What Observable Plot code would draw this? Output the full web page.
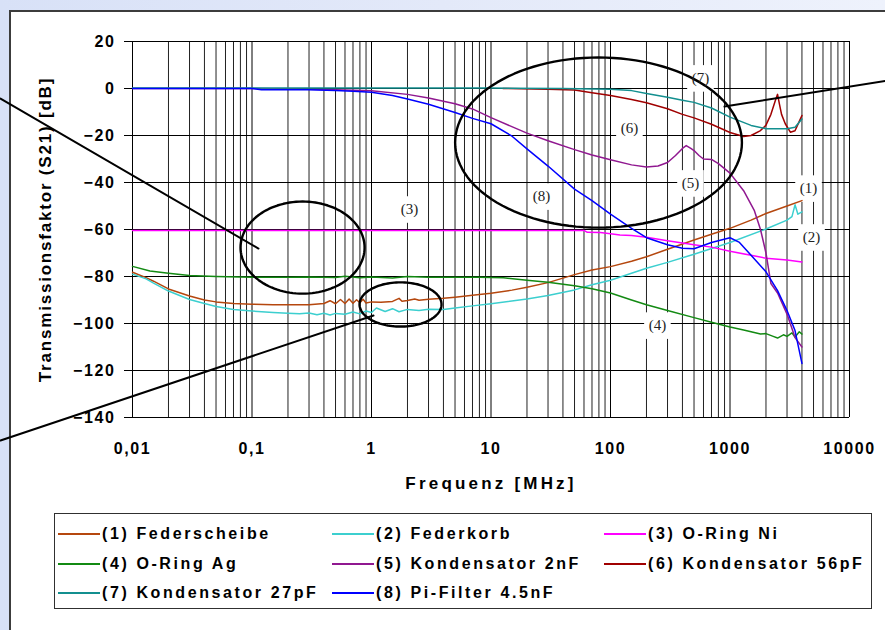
<!DOCTYPE html>
<html><head><meta charset="utf-8">
<script src="https://cdn.jsdelivr.net/npm/d3@7"></script>
<script src="https://cdn.jsdelivr.net/npm/@observablehq/plot@0.6"></script>
<style>
html,body{margin:0;padding:0}
body{width:885px;height:630px;overflow:hidden;position:relative;background:linear-gradient(90deg,#d8e1f7 0%,#e3e9f9 50%,#eef2fc 100%);}
#frame{position:absolute;left:9px;top:10px;width:900px;height:640px;background:#fff;border:2px solid #3c3c3c;box-sizing:border-box}
#chart{position:absolute;left:0;top:0}
#legend{position:absolute;left:54px;top:513px;width:818px;height:96px;border:1px solid #303030;box-sizing:border-box;background:#fff;font:bold 16px "Liberation Sans",Arial,sans-serif;letter-spacing:2.6px;color:#000}
.item{position:absolute;height:20px;display:flex;align-items:center;white-space:nowrap}
.sw{display:inline-block;width:42px;height:2px;margin-right:2px}
</style></head>
<body><div id="frame"></div><div id="chart"></div><div id="legend"></div>
<script>
// ---- axis ticks ----
const xTicks = [0.01, 0.1, 1, 10, 100, 1000, 10000];
const xTickLabels = ["0,01", "0,1", "1", "10", "100", "1000", "10000"];
const yTicks = [20, 0, -20, -40, -60, -80, -100, -120, -140];
const minorSteps = [2, 3, 4, 5, 6, 7, 8, 9];
const yTitle = "Transmissionsfaktor (S21) [dB]";
const xTitle = "Frequenz [MHz]";

// ---- series names / colours ----
const names = ["(1) Federscheibe", "(2) Federkorb", "(3) O-Ring Ni", "(4) O-Ring Ag",
  "(5) Kondensator 2nF", "(6) Kondensator 56pF", "(7) Kondensator 27pF", "(8) Pi-Filter 4.5nF"];
const colors = ["#b5470e", "#3ccfcf", "#ff00ff", "#138a13", "#901890", "#a00000", "#138f8f", "#0000ff"];

// ---- data (frequency MHz, S21 dB) ----
const f1 = [0.01,0.013,0.015,0.02,0.03,0.04,0.05,0.07,0.1,0.15,0.2,0.3,0.4,0.45,0.5,0.55,0.6,0.65,0.7,0.75,0.8,0.85,0.9,1,1.2,1.5,1.7,1.8,2,2.3,2.5,3,4,5,7,10,15,20,30,50,70,100,150,200,300,500,700,1000,1500,2000,3000,4000];
const db1 = [-78.2,-80.5,-82,-85.3,-88.3,-90,-90.8,-91.5,-91.8,-92,-92,-92,-91.5,-90.3,-91.6,-89.8,-91.5,-89.6,-91.4,-89.9,-91.2,-89.7,-91.3,-90.8,-91,-90.6,-89.3,-90.5,-90.2,-89.6,-90.1,-89.7,-89.3,-88.8,-88,-87.1,-85.8,-84.6,-82.6,-79.2,-77.2,-75.8,-73.5,-71.6,-68.4,-64.5,-62,-59.5,-56,-53.2,-50,-47.7];

const f2 = [0.01,0.013,0.015,0.02,0.03,0.04,0.05,0.07,0.1,0.15,0.2,0.25,0.3,0.35,0.4,0.45,0.5,0.6,0.7,0.8,0.9,1,1.1,1.3,1.5,1.7,2,2.5,3,4,5,7,10,20,30,50,70,100,200,300,500,1000,2000,3000,3300,3500,3700,4000];
const db2 = [-79,-81,-82.8,-86.2,-89.8,-91.5,-92.8,-94,-94.7,-95.3,-95.6,-95.9,-95.5,-96.3,-95.6,-96.4,-95.7,-96.1,-95.1,-95.9,-94.7,-95.3,-93.4,-94.9,-93.7,-95,-94,-94.5,-93.9,-94,-93.4,-92.5,-91.6,-89.6,-88.1,-85.7,-83.5,-81.6,-76.5,-74,-70.5,-65.5,-59.8,-56,-54.5,-49.5,-53.5,-52.5];

const f3 = [0.01,1,10,60,64,82,100,120,150,200,300,500,700,1000,1500,2000,3000,4000];
const db3 = [-60.4,-60.4,-60.4,-60.4,-61.2,-61.3,-61.8,-62.3,-62.6,-63.3,-64.8,-66.5,-67.5,-69.3,-71,-72.2,-73,-73.8];

const f4 = [0.01,0.014,0.02,0.03,0.05,0.1,0.2,0.3,0.5,0.6,0.8,1,1.5,2,3,5,8,12.7,20,30,50,70,100,150,200,300,500,700,1000,1300,1500,1800,2000,2300,2500,2800,3000,3300,3500,3800,4000];
const db4 = [-75.7,-77.7,-78.6,-79.6,-80,-80.3,-80.3,-80.2,-80.4,-79.9,-80.5,-80.2,-80.6,-80,-80.3,-80.3,-80.3,-80.5,-81.6,-82.4,-83.9,-85.2,-87,-90,-92,-94.5,-97.5,-99.5,-101.5,-102.8,-103.5,-104.5,-104.3,-105.5,-106.2,-104.8,-105.5,-104,-105.8,-103.5,-104.5];

const f5 = [0.01,0.1,0.3,0.5,1,2,3,5,7,10,20,30,50,70,100,150,200,250,300,350,400,430,470,500,550,600,700,800,1000,1300,1600,1800,2000,2200,2500,3000,3500,4000];
const db5 = [0,0,-0.3,-0.5,-1,-2.5,-4,-6.5,-8.7,-12.4,-19,-22.2,-26,-28.3,-30.3,-32.5,-33.4,-33,-31.5,-28.5,-25.5,-24.3,-25.5,-26.4,-28.5,-30,-30.2,-32,-36,-43.5,-52,-60,-70,-83,-87,-96,-106,-110];

const f6 = [12.6,30,50,70,100,150,200,300,400,500,700,1000,1300,1500,1800,2000,2200,2400,2500,2600,2700,2900,3200,3500,3800,4000];
const db6 = [0,-0.3,-0.6,-1.8,-3,-4.7,-6.1,-8.6,-11,-12.5,-15.2,-18.7,-20.4,-20,-17.9,-15.6,-11,-5,-2.5,-7,-11,-15,-18.6,-18,-14,-11.5];

const f7 = [0.01,1,10,40,100,150,200,300,400,500,700,1000,1500,2000,3000,3500,4000];
const db7 = [0.2,0.2,0.2,0,-0.3,-0.9,-2.1,-3.7,-5,-5.9,-8.3,-12.2,-15.7,-17.1,-17.1,-16.5,-13];

const f8 = [0.01,0.1,0.12,0.3,0.5,0.7,1,1.5,2,3,5,7,10,15,20,30,50,70,100,150,200,300,400,500,700,1000,1200,1500,2000,2500,3000,3500,4000];
const db8 = [0,0,-0.5,-0.5,-0.8,-1.2,-1.6,-3,-4.5,-6.7,-10.2,-12.7,-15,-20.3,-25.7,-33,-42.8,-47.7,-53.5,-59.5,-63.5,-66.5,-68,-68.2,-65.5,-63.5,-65.5,-71,-78,-86,-94.5,-103,-117];

// ---- annotations (data coordinates) ----
const labelText = ["(1)", "(2)", "(3)", "(4)", "(5)", "(6)", "(7)", "(8)"];
const labelF = [4540, 4810, 2.08, 247, 467, 144, 566, 26.5];
const labelDb = [-42.6, -63.4, -51.5, -100.9, -40.4, -17.0, 4.3, -46];
const ellF = [79.4, 0.265, 1.75];
const ellDb = [-23, -67.7, -91.9];
const ellRxDecades = [1.2, 0.519, 0.343];
const ellRyDb = [36.2, 19.6, 9.4];
const lineStartF = [0.000786, 0.000786, 899];
const lineStartDb = [-4.3, -149.8, -7.7];
const lineEndF = [0.1133, 1.039, 22000];
const lineEndDb = [-68.1, -96.6, 3.6];

// ---- build tables ----
const F = [f1, f2, f3, f4, f5, f6, f7, f8];
const DB = [db1, db2, db3, db4, db5, db6, db7, db8];
const rows = names.flatMap((n, i) => F[i].map((f, j) => ({series: n, f, db: DB[i][j]})));
const xMinor = xTicks.slice(0, -1).flatMap(d => minorSteps.map(m => d * m));
const labels = labelText.map((t, i) => ({t, f: labelF[i], db: labelDb[i]}));
const ellPts = ellF.flatMap((c, k) => d3.range(0, 121).map(s => {
  const a = s / 120 * 2 * Math.PI;
  return {k, f: c * Math.pow(10, ellRxDecades[k] * Math.cos(a)), db: ellDb[k] + ellRyDb[k] * Math.sin(a)};
}));
const segs = lineStartF.flatMap((f, k) => [{k, f, db: lineStartDb[k]}, {k, f: lineEndF[k], db: lineEndDb[k]}]);

const chart = Plot.plot({
  width: 885, height: 470,
  marginLeft: 132, marginRight: 36, marginTop: 41, marginBottom: 53,
  style: {background: "transparent", fontFamily: "'Liberation Sans', Arial, sans-serif", overflow: "visible", color: "#000"},
  x: {type: "log", domain: [0.01, 10000]},
  y: {domain: [-140, 20]},
  color: {domain: names, range: colors},
  marks: [
    Plot.ruleX(xMinor, {stroke: "#222", strokeWidth: 1}),
    Plot.ruleX(xTicks, {stroke: "#000", strokeWidth: 1}),
    Plot.ruleY(yTicks, {stroke: "#000", strokeWidth: 1}),
    Plot.dot(labels, {x: "f", y: "db", symbol: "square", r: 15, fill: "white", stroke: "none"}),
    Plot.line(rows, {x: "f", y: "db", z: "series", stroke: "series", strokeWidth: 1.5, curve: "linear"}),
    Plot.line(ellPts, {x: "f", y: "db", z: "k", stroke: "#000", strokeWidth: 2.4, curve: "linear"}),
    Plot.line(segs, {x: "f", y: "db", z: "k", stroke: "#000", strokeWidth: 2}),
    Plot.text(labels, {x: "f", y: "db", text: "t", fontFamily: "'Liberation Serif', 'Times New Roman', serif", fontSize: 15, fill: "#222"}),
    Plot.axisY({ticks: yTicks, tickSize: 8, tickPadding: 9, label: null, fontSize: 16, fontWeight: "bold"}),
    Plot.axisX({ticks: xTicks, tickFormat: d => xTickLabels[xTicks.indexOf(d)], tickSize: 0, tickPadding: 25, label: null, fontSize: 16, fontWeight: "bold"}),
    Plot.text([yTitle], {frameAnchor: "left", dx: -87, rotate: -90, textAnchor: "middle", fontSize: 17, fontWeight: "bold"}),
    Plot.text([xTitle], {frameAnchor: "bottom", dy: 66, textAnchor: "middle", lineAnchor: "middle", fontSize: 17, fontWeight: "bold"})
  ]
});
document.getElementById("chart").appendChild(chart);
const sel = d3.select(chart);
sel.selectAll('g[aria-label="y-axis tick label"] text, g[aria-label="x-axis tick label"] text').style("letter-spacing", "1.6px");
sel.selectAll("text").filter(function() { return this.textContent === yTitle; }).style("letter-spacing", "1.8px");
sel.selectAll("text").filter(function() { return this.textContent === xTitle; }).style("letter-spacing", "3.2px");

// ---- legend ----
const legCols = [3, 277, 549];
const legRows = [10, 40, 69];
const leg = d3.select("#legend");
names.forEach((n, i) => {
  const it = leg.append("div").attr("class", "item")
    .style("left", legCols[i % 3] + "px").style("top", legRows[Math.floor(i / 3)] + "px");
  it.append("span").attr("class", "sw").style("background", colors[i]);
  it.append("span").text(n);
});
</script></body></html>
